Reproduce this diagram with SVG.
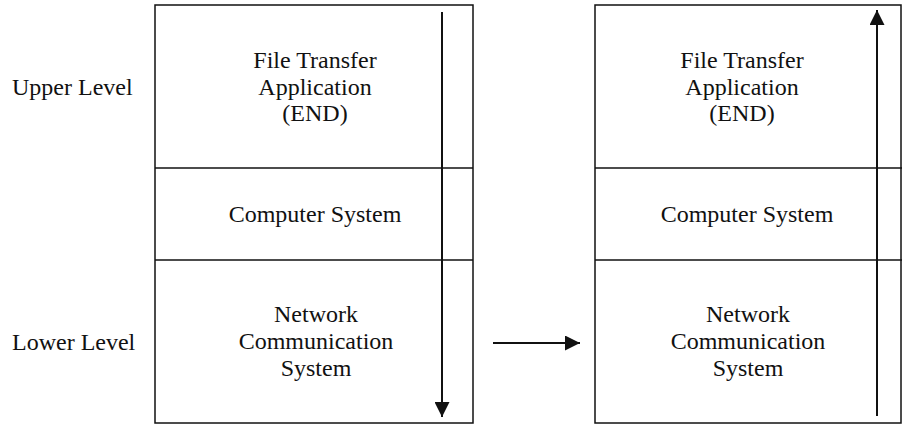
<svg xmlns="http://www.w3.org/2000/svg" width="902" height="425" viewBox="0 0 902 425">
<style>
.box{fill:none;stroke:#111;stroke-width:1.5}
.t{font-family:"Liberation Serif","Times New Roman",serif;font-size:24px;fill:#111;text-anchor:middle}
.l{font-family:"Liberation Serif","Times New Roman",serif;font-size:24px;fill:#111}
.arr{stroke:#111;stroke-width:2;fill:none}
</style>
<defs>
<marker id="ah" viewBox="0 0 10 10" refX="10" refY="5" markerWidth="15" markerHeight="15" markerUnits="userSpaceOnUse" orient="auto">
<path d="M0,0 L10,5 L0,10 Z" fill="#111"/>
</marker>
</defs>
<rect width="902" height="425" fill="#fff"/>
<g id="labels">
<text class="l" x="12" y="95">Upper Level</text>
<text class="l" x="12" y="350">Lower Level</text>
</g>
<g id="left-stack">
<rect class="box" x="155" y="5" width="318" height="418"/>
<line class="box" x1="155" y1="168" x2="473" y2="168"/>
<line class="box" x1="155" y1="260" x2="473" y2="260"/>
</g>
<g id="left-app">
<text class="t" x="315" y="68">File Transfer</text>
<text class="t" x="315" y="95">Application</text>
<text class="t" x="315" y="121">(END)</text>
</g>
<g id="left-computer">
<text class="t" x="315" y="222">Computer System</text>
</g>
<g id="left-network">
<text class="t" x="316" y="322">Network</text>
<text class="t" x="316" y="349">Communication</text>
<text class="t" x="316" y="376">System</text>
</g>
<g id="right-stack">
<rect class="box" x="595" y="5" width="306" height="418"/>
<line class="box" x1="595" y1="168" x2="902" y2="168"/>
<line class="box" x1="595" y1="260" x2="902" y2="260"/>
</g>
<g id="right-app">
<text class="t" x="742" y="68">File Transfer</text>
<text class="t" x="742" y="95">Application</text>
<text class="t" x="742" y="121">(END)</text>
</g>
<g id="right-computer">
<text class="t" x="747" y="222">Computer System</text>
</g>
<g id="right-network">
<text class="t" x="748" y="322">Network</text>
<text class="t" x="748" y="349">Communication</text>
<text class="t" x="748" y="376">System</text>
</g>
<g id="connectors">
<line class="arr" x1="442" y1="12" x2="442" y2="417" marker-end="url(#ah)"/>
<line class="arr" x1="877" y1="416" x2="877" y2="10" marker-end="url(#ah)"/>
<line class="arr" x1="493" y1="343" x2="580" y2="343" marker-end="url(#ah)"/>
</g>
</svg>
